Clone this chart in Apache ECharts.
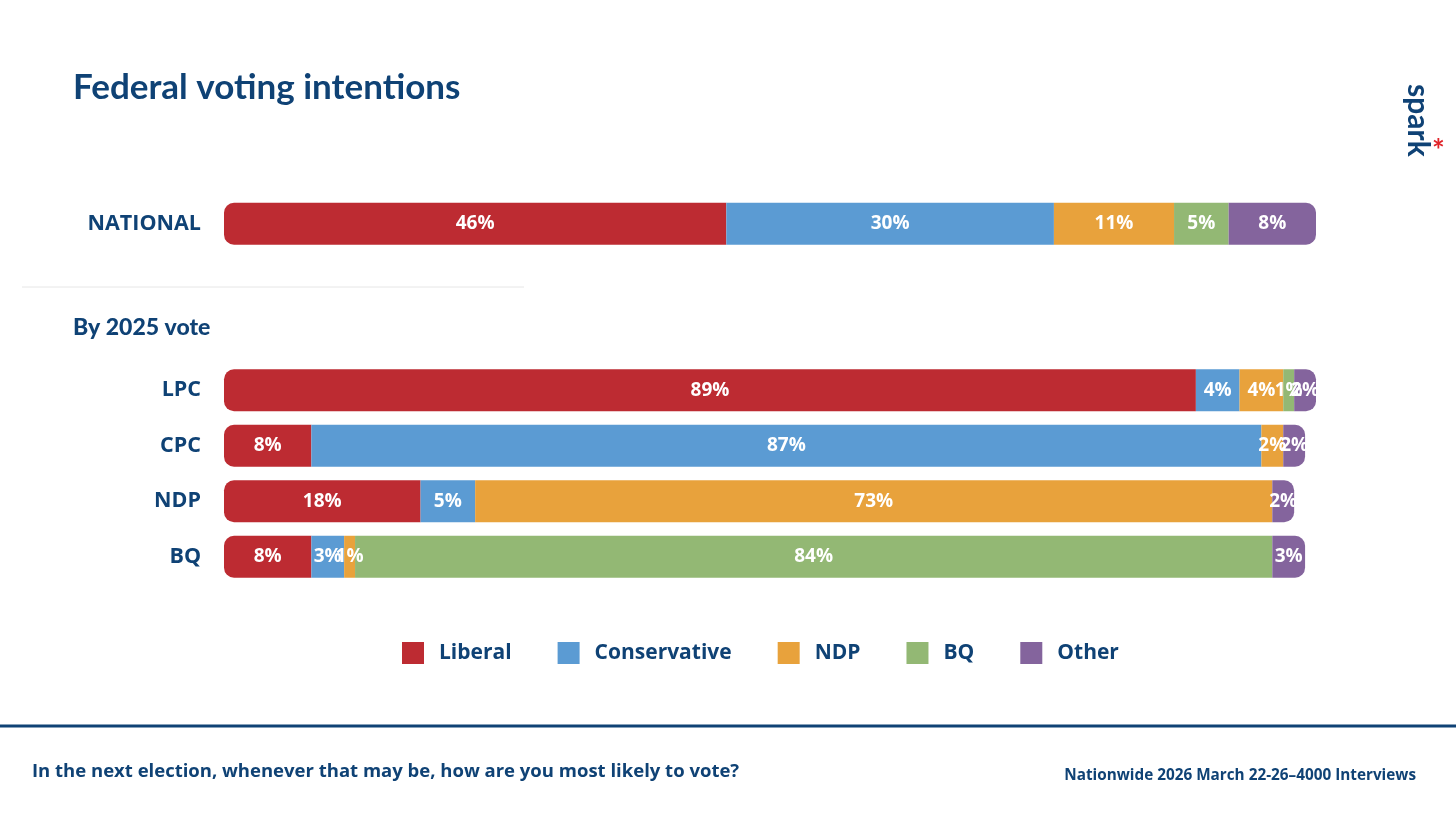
<!DOCTYPE html><html><head><meta charset="utf-8">
<script src="https://cdn.jsdelivr.net/npm/echarts@6/dist/echarts.min.js"></script>
<style>html,body{margin:0;background:#fff}#c{width:1456px;height:819px}</style></head><body><div id="c"></div>
<script>
const categories = ['NATIONAL','','','LPC','CPC','NDP','BQ'];
const seriesNames = ['Liberal','Conservative','NDP','BQ','Other'];
const liberal      = [46,null,null,89,8,18,8];
const conservative = [30,null,null,4,87,5,3];
const ndp          = [11,null,null,4,2,73,1];
const bq           = [5,null,null,1,0,0,84];
const other        = [8,null,null,2,2,2,3];
const colors = ['#bd2b32','#5b9bd3','#e8a23c','#93b874','#84649d'];
const TXT = '#0f4275';
const all = [liberal,conservative,ndp,bq,other];
const R = 10;
const series = all.map((arr,si)=>({
  name: seriesNames[si], type:'bar', stack:'s', barWidth:42,
  itemStyle:{color:colors[si]},
  label:{show:true,position:'inside',color:'#fff',fontWeight:'bold',fontSize:19,fontFamily:'Open Sans',
    formatter:p=>p.value?p.value+'%':''},
  data: arr.map((v,ci)=>{
    if(!v) return v===0?{value:0,label:{show:false}}:null;
    let first=true,last=true;
    for(let k=0;k<si;k++) if(all[k][ci]) first=false;
    for(let k=si+1;k<all.length;k++) if(all[k][ci]) last=false;
    return {value:v,itemStyle:{borderRadius:[first?R:0,last?R:0,last?R:0,first?R:0]}};
  })
}));
const chart = echarts.init(document.getElementById('c'));
chart.setOption({
  animation:false,
  grid:{left:224,width:1092,top:196,height:388.5},
  xAxis:{type:'value',min:0,max:100,show:false},
  yAxis:{type:'category',data:categories,inverse:true,axisLine:{show:false},axisTick:{show:false},
    axisLabel:{color:TXT,fontSize:21.5,fontWeight:'bold',fontFamily:'Open Sans',margin:23}},
  legend:{data:seriesNames,top:637,left:397,itemWidth:22,itemHeight:22,itemGap:46,icon:'rect',
    textStyle:{color:TXT,fontSize:21,fontWeight:'bold',fontFamily:'Open Sans',padding:[0,0,0,10]}},
  series,
  graphic:[
    {type:'text',left:73,top:70,style:{text:'Federal voting intentions',fill:TXT,font:'bold 35px Lato'}},
    {type:'text',left:73,top:316,style:{text:'By 2025 vote',fill:TXT,font:'900 23px Lato'}},
    {type:'line',shape:{x1:22,y1:287,x2:524,y2:287},style:{stroke:'#e6e6e6',lineWidth:1}},
    {type:'line',shape:{x1:0,y1:726,x2:1456,y2:726},style:{stroke:'#0f4275',lineWidth:3}},
    {type:'text',left:32,top:762,style:{text:'In the next election, whenever that may be, how are you most likely to vote?',fill:TXT,font:'bold 18.5px Open Sans'}},
    {type:'text',right:40,top:768,style:{text:'Nationwide 2026 March 22-26–4000 Interviews',fill:TXT,font:'bold 15.3px Open Sans'}},
    {type:'text',x:1433,y:84,rotation:-Math.PI/2,style:{text:'spark',fill:'#0f4275',font:'bold 30px Lato'}},
    {type:'text',x:1432,y:136,style:{text:'*',fill:'#e0242a',font:'bold 30px Lato'}}
  ]
});
</script></body></html>
